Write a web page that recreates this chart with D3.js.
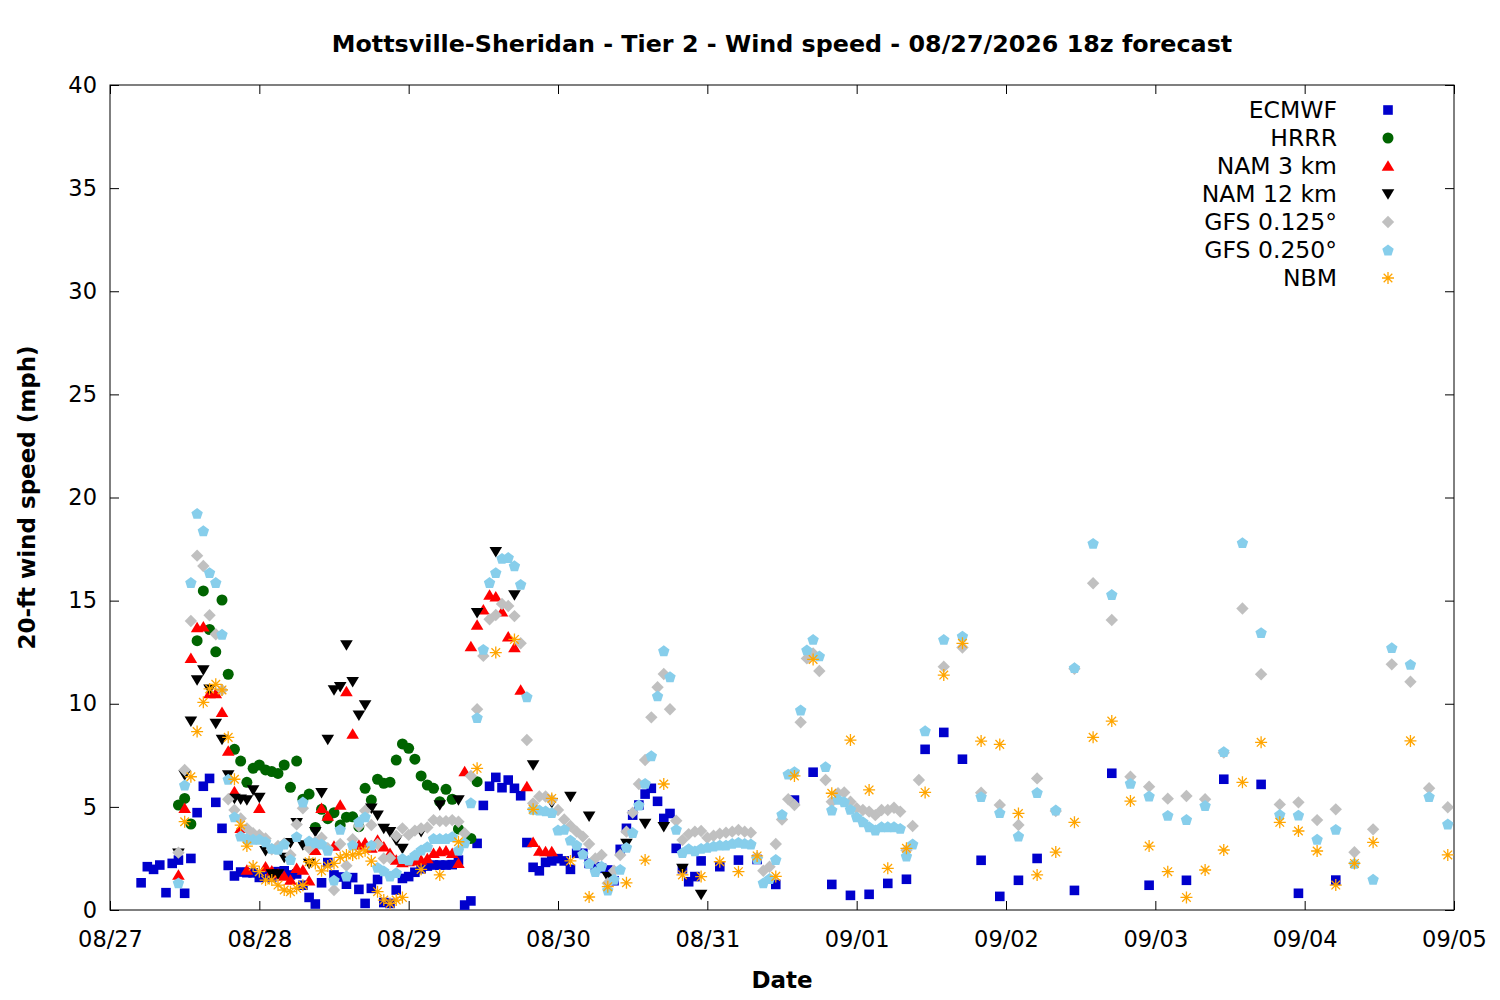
<!DOCTYPE html>
<html>
<head>
<meta charset="utf-8">
<script src="https://cdn.jsdelivr.net/npm/d3@7"></script>
<style>
  body { margin: 0; background: #fff; }
  text { font-family: "DejaVu Sans", sans-serif; fill: #000; }
</style>
</head>
<body>
<script>
// hours after 08/27 00z, wind speed (mph)
var ecmwf = [[5,1.32],[6,2.1],[7,1.97],[8,2.18],[9,0.84],[10,2.26],[11,2.42],[12,0.81],[13,2.5],[14,4.72],[15,6.0],[16,6.38],[17,5.22],[18,3.96],[19,2.16],[20,1.65],[21,1.84],[22,1.81],[23,1.8],[24,1.58],[25,1.7],[26,1.6],[27,1.86],[28,1.9],[29,1.7],[30,1.75],[31,1.2],[32,0.61],[33,0.29],[34,1.32],[35,2.3],[36,1.7],[37,1.6],[38,1.25],[39,1.57],[40,1.0],[41,0.32],[42,1.05],[43,1.48],[44,0.36],[45,0.32],[46,0.97],[47,1.53],[48,1.62],[49,1.83],[50,2.0],[51,2.13],[52,2.18],[53,2.18],[54,2.18],[55,2.2],[56,2.42],[57,0.24],[58,0.44],[59,3.23],[60,5.07],[61,6.0],[62,6.43],[63,5.93],[64,6.3],[65,5.9],[66,5.54],[67,3.27],[68,2.07],[69,1.9],[70,2.31],[71,2.38],[72,2.49],[73,2.38],[74,1.97],[75,2.75],[76,2.75],[77,2.26],[78,2.1],[79,2.02],[80,1.94],[81,1.42],[82,2.94],[83,3.96],[84,4.6],[85,5.09],[86,5.62],[87,5.9],[88,5.27],[89,4.44],[90,4.68],[91,2.99],[92,2.0],[93,1.37],[94,1.62],[95,2.38],[98,2.1],[101,2.42],[104,2.45],[107,1.24],[110,5.33],[113,6.68],[116,1.24],[119,0.71],[122,0.76],[125,1.29],[128,1.49],[131,7.79],[134,8.61],[137,7.31],[140,2.41],[143,0.66],[146,1.44],[149,2.5],[155,0.95],[161,6.63],[167,1.2],[173,1.44],[179,6.34],[185,6.09],[191,0.81],[197,1.45]]

var hrrr = [[11,5.09],[12,5.41],[13,4.17],[14,13.06],[15,15.47],[16,13.6],[17,12.52],[18,15.03],[19,11.43],[20,7.79],[21,7.22],[22,6.19],[23,6.87],[24,7.03],[25,6.79],[26,6.71],[27,6.62],[28,7.03],[29,5.95],[30,7.22],[31,5.37],[32,5.62],[33,4.0],[34,4.88],[35,4.43],[36,4.72],[37,4.12],[38,4.5],[39,4.52],[40,4.04],[41,5.9],[42,5.33],[43,6.34],[44,6.14],[45,6.2],[46,7.27],[47,8.05],[48,7.84],[49,7.31],[50,6.5],[51,6.06],[52,5.9],[53,5.25],[54,5.85],[55,5.37],[56,3.93],[58,3.47],[59,6.22]]

var nam3 = [[11,1.7],[12,4.93],[13,12.2],[14,13.7],[15,13.73],[16,10.5],[17,10.5],[18,9.58],[19,7.71],[20,5.74],[21,3.96],[22,1.94],[23,3.7],[24,4.93],[25,2.1],[26,1.9],[27,1.75],[28,1.65],[29,1.45],[30,2.02],[31,1.94],[32,1.42],[33,2.9],[34,4.93],[35,4.55],[36,3.1],[37,5.09],[38,10.59],[39,8.53],[40,3.15],[41,3.26],[42,3.0],[43,3.39],[44,3.07],[45,2.75],[46,2.42],[47,2.3],[48,2.35],[49,2.39],[50,2.42],[51,2.5],[52,2.75],[53,2.83],[54,2.87],[55,2.75],[56,2.26],[57,6.71],[58,12.77],[59,13.82],[60,14.55],[61,15.27],[62,15.19],[63,14.46],[64,13.25],[65,12.73],[66,10.67],[67,5.98],[68,3.28],[69,2.86],[70,2.83],[71,2.83]]

var nam12 = [[11,2.75],[12,6.55],[13,9.16],[14,11.15],[15,11.64],[16,10.7],[17,9.05],[18,8.27],[19,6.55],[20,5.41],[21,5.37],[22,5.33],[23,5.82],[24,5.46],[25,2.87],[26,1.75],[27,1.75],[28,2.55],[29,3.26],[30,4.23],[31,3.15],[32,2.26],[33,3.8],[34,5.69],[35,8.27],[36,10.67],[37,10.83],[38,12.85],[39,11.07],[40,9.45],[41,9.94],[42,4.93],[43,4.6],[44,3.96],[45,3.8],[46,3.39],[47,2.99],[50,3.8],[53,5.09],[56,5.33],[59,14.42],[62,17.37],[65,15.27],[68,7.03],[71,5.2],[74,5.5],[77,4.55],[80,1.62],[83,3.23],[86,4.2],[89,4.04],[92,2.02],[95,0.76]]

var gfs125 = [[11,2.78],[12,6.79],[13,14.01],[14,17.18],[15,16.68],[16,14.29],[17,13.37],[18,10.67],[19,5.37],[20,4.85],[21,4.44],[22,3.96],[23,3.72],[24,3.64],[25,3.47],[26,2.94],[27,3.1],[28,3.23],[29,2.67],[30,4.15],[31,4.93],[32,3.0],[33,3.3],[34,3.5],[35,3.0],[36,0.97],[37,3.2],[38,2.15],[39,3.43],[40,4.07],[41,4.81],[42,4.12],[43,3.2],[44,2.5],[45,2.52],[46,3.59],[47,3.96],[48,3.64],[49,3.85],[50,3.96],[51,4.0],[52,4.36],[53,4.31],[54,4.31],[55,4.36],[56,4.28],[57,3.72],[58,6.5],[59,9.73],[60,12.32],[61,14.1],[62,14.3],[63,14.84],[64,14.74],[65,14.25],[66,12.93],[67,8.24],[68,5.17],[69,5.5],[70,5.5],[71,5.33],[72,4.85],[73,4.39],[74,4.07],[75,3.8],[76,3.56],[77,3.2],[78,2.5],[79,2.67],[80,1.3],[81,1.9],[82,2.67],[83,3.8],[84,4.72],[85,6.11],[86,7.27],[87,9.34],[88,10.8],[89,11.44],[90,9.73],[91,4.33],[92,3.39],[93,3.68],[94,3.8],[95,3.83],[96,3.5],[97,3.6],[98,3.7],[99,3.75],[100,3.8],[101,3.88],[102,3.8],[103,3.75],[104,2.55],[105,1.9],[106,2.1],[107,3.2],[108,4.39],[109,5.37],[110,5.09],[111,9.1],[112,12.2],[113,12.44],[114,11.59],[115,6.3],[116,5.25],[117,5.66],[118,5.7],[119,5.25],[120,4.93],[121,4.85],[122,4.77],[123,4.6],[124,4.85],[125,4.85],[126,4.96],[127,4.77],[128,2.9],[129,4.07],[130,6.3],[134,11.8],[137,12.73],[140,5.69],[143,5.09],[146,4.12],[149,6.38],[152,4.8],[155,11.7],[158,15.84],[161,14.06],[164,6.46],[167,5.98],[170,5.4],[173,5.53],[176,5.37],[179,7.63],[182,14.62],[185,11.43],[188,5.12],[191,5.22],[194,4.36],[197,4.88],[200,2.8],[203,3.91],[206,11.91],[209,11.07],[212,5.9],[215,4.98]]

var gfs250 = [[11,1.32],[12,6.06],[13,15.88],[14,19.23],[15,18.39],[16,16.36],[17,15.88],[18,13.37],[19,6.34],[20,4.52],[21,3.59],[22,3.47],[23,3.43],[24,3.43],[25,3.31],[26,2.99],[27,2.94],[28,3.2],[29,2.45],[30,3.56],[31,5.24],[32,3.35],[33,3.26],[34,3.2],[35,2.9],[36,1.45],[37,3.91],[38,1.65],[39,3.15],[40,4.28],[41,4.52],[42,3.15],[43,2.07],[44,1.9],[45,1.65],[46,1.81],[47,2.5],[48,2.42],[49,2.67],[50,2.91],[51,3.07],[52,3.47],[53,3.47],[54,3.47],[55,3.56],[56,2.91],[57,3.26],[58,5.2],[59,9.33],[60,12.64],[61,15.88],[62,16.36],[63,17.05],[64,17.09],[65,16.69],[66,15.79],[67,10.34],[68,4.88],[69,4.85],[70,4.81],[71,4.72],[72,3.88],[73,3.91],[74,3.39],[75,3.15],[76,2.71],[77,2.26],[78,1.86],[79,2.13],[80,0.97],[81,1.49],[82,1.97],[83,3.04],[84,3.76],[85,5.09],[86,6.14],[87,7.48],[88,10.38],[89,12.57],[90,11.31],[91,3.91],[92,2.78],[93,2.97],[94,2.87],[95,2.99],[96,3.04],[97,3.1],[98,3.15],[99,3.15],[100,3.23],[101,3.28],[102,3.23],[103,3.2],[104,2.5],[105,1.32],[106,1.53],[107,2.45],[108,4.64],[109,6.59],[110,6.71],[111,9.7],[112,12.61],[113,13.12],[114,12.32],[115,6.95],[116,4.85],[117,5.37],[118,5.25],[119,4.88],[120,4.52],[121,4.28],[122,4.04],[123,3.88],[124,4.04],[125,4.04],[126,4.04],[127,3.96],[128,2.62],[129,3.2],[131,8.69],[134,13.12],[137,13.28],[140,5.5],[143,4.72],[146,3.59],[149,5.7],[152,4.85],[155,11.75],[158,17.78],[161,15.3],[164,6.14],[167,5.53],[170,4.59],[173,4.39],[176,5.07],[179,7.68],[182,17.81],[185,13.45],[188,4.63],[191,4.6],[194,3.43],[197,3.91],[200,2.26],[203,1.49],[206,12.72],[209,11.91],[212,5.5],[215,4.17]]

var nbm = [[12,4.28],[13,6.46],[14,8.65],[15,10.07],[16,10.72],[17,10.94],[18,10.67],[19,8.37],[20,6.34],[21,4.12],[22,3.1],[23,2.13],[24,1.86],[25,1.45],[26,1.45],[27,1.21],[28,0.97],[29,0.89],[30,1.05],[31,1.2],[32,2.34],[33,2.26],[34,1.9],[35,2.13],[36,2.26],[37,2.55],[38,2.67],[39,2.67],[40,2.75],[41,2.87],[42,2.37],[43,0.89],[44,0.48],[45,0.32],[46,0.48],[47,0.61],[50,1.97],[53,1.7],[56,3.31],[59,6.87],[62,12.48],[65,13.12],[68,4.88],[71,5.41],[74,2.38],[77,0.63],[80,1.13],[83,1.32],[86,2.42],[89,6.11],[92,1.7],[95,1.62],[98,2.34],[101,1.86],[104,2.62],[107,1.63],[110,6.5],[113,12.15],[116,5.66],[119,8.24],[122,5.82],[125,2.02],[128,2.99],[131,5.7],[134,11.39],[137,12.93],[140,8.19],[143,8.03],[146,4.68],[149,1.7],[152,2.81],[155,4.25],[158,8.37],[161,9.16],[164,5.28],[167,3.1],[170,1.86],[173,0.61],[176,1.94],[179,2.91],[182,6.19],[185,8.13],[188,4.25],[191,3.83],[194,2.86],[197,1.21],[200,2.26],[203,3.28],[209,8.2],[215,2.67]]

var seriesNames = ["ECMWF", "HRRR", "NAM 3 km", "NAM 12 km", "GFS 0.125°", "GFS 0.250°", "NBM"]
var seriesData = [ecmwf, hrrr, nam3, nam12, gfs125, gfs250, nbm]
var seriesColors = ["#0000cc", "#006400", "#ff0000", "#000000", "#c0c0c0", "#87ceeb", "#ffa500"]
var seriesShapes = ["square", "circle", "triUp", "triDown", "diamond", "pentagon", "star"]
var yTicks = [0, 5, 10, 15, 20, 25, 30, 35, 40]

var w = 1500
var h = 1000
var plotL = 110, plotR = 1454, plotT = 85, plotB = 910
var t0 = Date.UTC(2026, 7, 27)
var t1 = Date.UTC(2026, 8, 5)

var svg = d3.select("body").append("svg")
  .attr("width", w)
  .attr("height", h)

var x = d3.scaleUtc()
  .domain([new Date(t0), new Date(t1)])
  .range([plotL, plotR])
var y = d3.scaleLinear().domain([0, 40]).range([plotB, plotT])

function shapePath(kind) {
  if (kind == "square") return "M-4.8,-4.8h9.6v9.6h-9.6Z"
  if (kind == "circle") return d3.symbol(d3.symbolCircle, Math.PI * 5.5 * 5.5)()
  if (kind == "triUp") return "M0,-5.8L6.3,4.7L-6.3,4.7Z"
  if (kind == "triDown") return "M0,5.8L6.3,-4.7L-6.3,-4.7Z"
  if (kind == "diamond") return "M0,-6.2L6.2,0L0,6.2L-6.2,0Z"
  if (kind == "pentagon") {
    var pts = d3.range(5).map(function (i) {
      var a = -Math.PI / 2 + i * 2 * Math.PI / 5
      return [6 * Math.cos(a), 6 * Math.sin(a) + 0.6]
    })
    return "M" + pts.join("L") + "Z"
  }
  // asterisk: plus and cross
  return "M-6,0H6M0,-6V6M-4.3,-4.3L4.3,4.3M-4.3,4.3L4.3,-4.3"
}

function drawMark(sel, i) {
  var kind = seriesShapes[i]
  sel.attr("d", shapePath(kind))
  if (kind == "star")
    sel.attr("fill", "none").attr("stroke", seriesColors[i]).attr("stroke-width", 1.3)
  else
    sel.attr("fill", seriesColors[i])
}

// axes (ticks point inward, mirrored on top and right)
var fmt = d3.utcFormat("%m/%d")
var dayTicks = d3.utcDay.range(new Date(t0), new Date(t1 + 3600e3))

svg.append("g")
  .attr("transform", "translate(0," + plotB + ")")
  .call(d3.axisBottom(x).tickValues(dayTicks).tickFormat(fmt).tickSizeInner(-9).tickSizeOuter(0).tickPadding(21))
svg.append("g")
  .attr("transform", "translate(0," + plotT + ")")
  .call(d3.axisTop(x).tickValues(dayTicks).tickFormat("").tickSizeInner(-9).tickSizeOuter(0))
svg.append("g")
  .attr("transform", "translate(" + plotL + ",0)")
  .call(d3.axisLeft(y).tickValues(yTicks).tickSizeInner(-9).tickSizeOuter(0).tickPadding(13))
svg.append("g")
  .attr("transform", "translate(" + plotR + ",0)")
  .call(d3.axisRight(y).tickValues(yTicks).tickFormat("").tickSizeInner(-9).tickSizeOuter(0))

svg.selectAll(".domain").remove()
svg.selectAll(".tick line").attr("stroke", "#000")
svg.selectAll(".tick text")
  .style("font-family", '"DejaVu Sans", sans-serif')
  .style("font-size", "22.5px")
  .attr("fill", "#000")

svg.append("rect")
  .attr("x", plotL).attr("y", plotT)
  .attr("width", plotR - plotL).attr("height", plotB - plotT)
  .attr("fill", "none").attr("stroke", "#000").attr("stroke-width", 1)

// points, in legend order so NBM ends on top
seriesData.forEach(function (data, i) {
  svg.append("g").selectAll("path")
    .data(data)
    .enter()
    .append("path")
    .attr("transform", function (d) {
      return "translate(" + x(new Date(t0 + d[0] * 3600e3)) + "," + y(d[1]) + ")"
    })
    .call(drawMark, i)
})

// legend
var legend = svg.append("g")
seriesNames.forEach(function (name, i) {
  var ly = 110 + i * 28
  legend.append("text")
    .attr("x", 1337).attr("y", ly)
    .attr("dy", "0.36em")
    .attr("text-anchor", "end")
    .style("font-size", "23.5px")
    .text(name)
  legend.append("path")
    .attr("transform", "translate(1388," + ly + ")")
    .call(drawMark, i)
})

// titles
svg.append("text")
  .attr("x", (plotL + plotR) / 2).attr("y", 43)
  .attr("dy", "0.36em")
  .attr("text-anchor", "middle")
  .style("font-size", "23.8px").style("font-weight", "bold")
  .text("Mottsville-Sheridan - Tier 2 - Wind speed - 08/27/2026 18z forecast")

svg.append("text")
  .attr("x", (plotL + plotR) / 2).attr("y", 980)
  .attr("dy", "0.36em")
  .attr("text-anchor", "middle")
  .style("font-size", "23px").style("font-weight", "bold")
  .text("Date")

svg.append("text")
  .attr("transform", "translate(27," + (plotT + plotB) / 2 + ") rotate(-90)")
  .attr("dy", "0.36em")
  .attr("text-anchor", "middle")
  .style("font-size", "23px").style("font-weight", "bold")
  .text("20-ft wind speed (mph)")
</script>
</body>
</html>
